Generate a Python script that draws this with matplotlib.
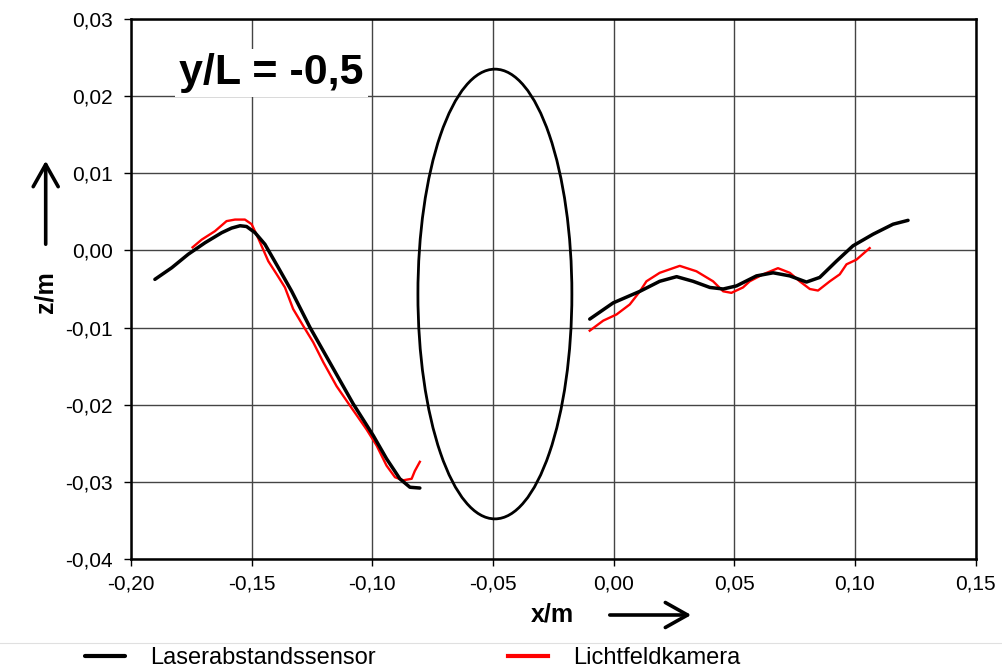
import matplotlib
matplotlib.use('Agg')
import matplotlib.pyplot as plt
from matplotlib.patches import Ellipse, FancyArrowPatch
from matplotlib.ticker import FuncFormatter

# Laserabstandssensor, linker Abschnitt (x/m, z/m)
laser_x1 = [-0.1901, -0.1831, -0.1763, -0.1693, -0.1624, -0.1583, -0.1548, -0.1521,
            -0.1486, -0.1445, -0.1390, -0.1334, -0.1258, -0.1079, -0.0996, -0.0941,
            -0.0886, -0.0844, -0.0803]
laser_z1 = [-0.00375, -0.00224, -0.0005, 0.0010, 0.0023, 0.0029, 0.0032, 0.0031,
            0.0023, 0.0008, -0.0022, -0.0053, -0.0100, -0.0199, -0.0240, -0.0270,
            -0.0296, -0.0307, -0.0308]
# Laserabstandssensor, rechter Abschnitt
laser_x2 = [-0.0099, -0.0002, 0.0109, 0.0191, 0.0261, 0.0329, 0.0399, 0.0454, 0.0509,
            0.0592, 0.0661, 0.0730, 0.0799, 0.0854, 0.0923, 0.0992, 0.1075, 0.1158, 0.1220]
laser_z2 = [-0.0089, -0.0068, -0.0053, -0.0040, -0.0034, -0.0040, -0.0048, -0.0050, -0.0046,
            -0.0033, -0.0029, -0.0033, -0.0041, -0.0035, -0.0014, 0.0006, 0.0021, 0.0034, 0.0039]

# Lichtfeldkamera, linker Abschnitt
cam_x1 = [-0.1745, -0.1707, -0.1652, -0.1604, -0.1569, -0.1528, -0.1500, -0.1473,
          -0.1431, -0.1396, -0.1362, -0.1328, -0.1286, -0.1245, -0.1203, -0.1148,
          -0.1093, -0.1024, -0.0982, -0.0941, -0.0906, -0.0872, -0.0837, -0.0824, -0.0803]
cam_z1 = [0.0004, 0.0014, 0.0025, 0.0038, 0.0040, 0.0040, 0.0034, 0.0016,
          -0.0014, -0.0031, -0.0048, -0.0076, -0.0098, -0.0119, -0.0145, -0.0176,
          -0.0201, -0.0232, -0.0253, -0.0279, -0.0294, -0.0298, -0.0296, -0.0286, -0.0274]
# Lichtfeldkamera, rechter Abschnitt
cam_x2 = [-0.0099, -0.0043, 0.0012, 0.0067, 0.0109, 0.0136, 0.0191, 0.0274, 0.0343,
          0.0412, 0.0454, 0.0488, 0.0536, 0.0564, 0.0619, 0.0681, 0.0730, 0.0771,
          0.0813, 0.0847, 0.0896, 0.0937, 0.0965, 0.1006, 0.1061]
cam_z2 = [-0.0104, -0.0091, -0.0083, -0.0070, -0.0053, -0.0040, -0.0029, -0.0020, -0.0027,
          -0.0040, -0.0053, -0.0055, -0.0048, -0.0040, -0.0031, -0.0023, -0.0029, -0.0040,
          -0.0050, -0.0052, -0.0040, -0.0031, -0.0018, -0.0012, 0.0003]

# Ellipse (Querschnitt)
ell_center = (-0.0492, -0.00565)
ell_width = 0.0638
ell_height = 0.0583

x_ticks = [-0.20, -0.15, -0.10, -0.05, 0.00, 0.05, 0.10, 0.15]
y_ticks = [-0.04, -0.03, -0.02, -0.01, 0.00, 0.01, 0.02, 0.03]

plt.rcParams['font.family'] = ['Liberation Sans', 'DejaVu Sans']

W, H = 1003, 671
fig = plt.figure(figsize=(W / 100, H / 100), dpi=100)
ax = fig.add_axes([131 / W, 1 - 559 / H, (975.6 - 131) / W, (559 - 19) / H])

ax.plot(laser_x1, laser_z1, color='black', lw=2.5, zorder=4, solid_capstyle='round',
        solid_joinstyle='round', label='Laserabstandssensor')
ax.plot(laser_x2, laser_z2, color='black', lw=2.5, zorder=4, solid_capstyle='round',
        solid_joinstyle='round')
ax.plot(cam_x1, cam_z1, color='#ff0000', lw=1.7, zorder=3, solid_joinstyle='round',
        label='Lichtfeldkamera')
ax.plot(cam_x2, cam_z2, color='#ff0000', lw=1.7, zorder=3, solid_joinstyle='round')

ax.add_patch(Ellipse(ell_center, ell_width, ell_height, fill=False, ec='black', lw=2, zorder=5))

ax.set_xlim(-0.20, 0.15)
ax.set_ylim(-0.04, 0.03)
ax.set_xticks(x_ticks)
ax.set_yticks(y_ticks)
fmt = FuncFormatter(lambda v, p: f"{v:.2f}".replace('.', ',').replace('-0,00', '0,00'))
ax.xaxis.set_major_formatter(fmt)
ax.yaxis.set_major_formatter(fmt)
ax.tick_params(axis='both', direction='out', length=5, width=1, labelsize=15)
ax.tick_params(axis='y', pad=8)
ax.tick_params(axis='x', pad=6)
ax.grid(True, color='#444444', lw=1.0)
ax.set_axisbelow(True)
for s in ax.spines.values():
    s.set_linewidth(1.8)

ax.text(179 / W, 1 - 73 / H, 'y/L = -0,5', transform=fig.transFigure, fontsize=31,
        fontweight='bold', ha='left', va='center', zorder=6,
        bbox=dict(facecolor='white', edgecolor='none', pad=3))

# Achsenbeschriftungen mit Pfeilen
fig.text(552 / W, 1 - 614 / H, 'x/m', fontsize=18, fontweight='bold', ha='center', va='center')
fig.text(46 / W, 1 - 292 / H, 'z/m', fontsize=18, fontweight='bold', ha='center', va='center',
         rotation=90)
fig.add_artist(FancyArrowPatch((607 / W, 1 - 615 / H), (694 / W, 1 - 615 / H),
                               transform=fig.transFigure, color='black', lw=2.6,
                               arrowstyle='->,head_length=1.6,head_width=0.9', mutation_scale=10))
fig.add_artist(FancyArrowPatch((45.7 / W, 1 - 247 / H), (45.7 / W, 1 - 158 / H),
                               transform=fig.transFigure, color='black', lw=2.6,
                               arrowstyle='->,head_length=1.6,head_width=0.9', mutation_scale=10))

fig.add_artist(plt.Line2D([0.0, 1.0], [1 - 643 / H] * 2, transform=fig.transFigure,
                          color='#e0e0e0', lw=0.8))
leg = fig.legend(loc='center left', bbox_to_anchor=(85 / W, 1 - 658 / H), ncol=2, frameon=False,
                 fontsize=17, handlelength=1.7, columnspacing=5.6, handletextpad=1.05,
                 borderpad=0, borderaxespad=0)
for h in leg.get_lines():
    h.set_linewidth(3.0)

fig.savefig('out.png', dpi=100)
